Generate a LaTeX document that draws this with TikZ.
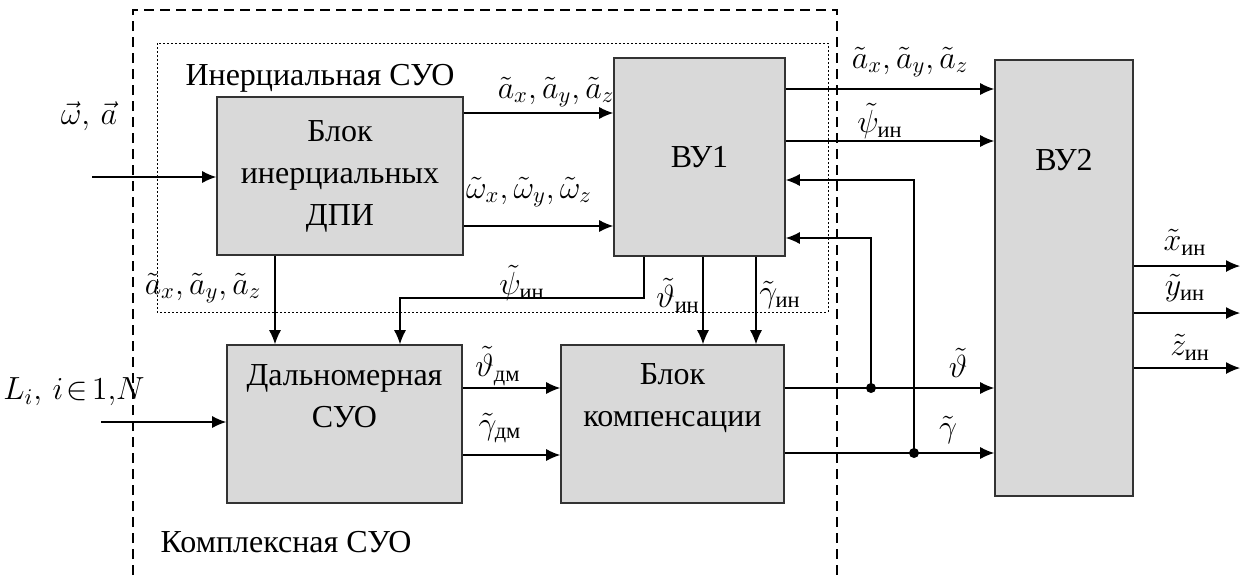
\RequirePackage{fix-cm}
\documentclass[tikz,border=0pt]{standalone}
\usepackage{amsmath}
\usepackage{fontspec}
\setmainfont{Liberation Serif}
\usetikzlibrary{arrows.meta}
\definecolor{boxgray}{HTML}{D9D9D9}
\begin{document}
\begin{tikzpicture}[x=0.5pt,y=-0.5pt,
  font=\fontsize{16}{21}\selectfont,
  box/.style={draw=black!80, line width=0.8pt, fill=boxgray, inner sep=0pt, align=center},
  ar/.style={-{Latex[length=7pt,width=6pt]}, line width=0.6pt},
  ln/.style={line width=0.6pt},
  dotn/.style={circle, fill=black, inner sep=0pt, minimum size=5pt},
  lbl/.style={inner sep=0pt}]
\useasboundingbox (0,0) rectangle (1247,575);

% frames
\draw[line width=1pt, dash pattern=on 5pt off 3pt] (133,575) -- (133,10) -- (837,10) -- (837,575);
\draw[line width=0.5pt, dash pattern=on 1pt off 1pt] (157,43) rectangle (828,312);

% boxes
\node[box, minimum width=123pt, minimum height=79pt] (b1) at (340,176) {Блок\\инерциальных\\ДПИ};
\node[box, minimum width=85.5pt, minimum height=99pt] (vu1) at (699.5,157) {ВУ1};
\node[box, minimum width=69pt, minimum height=218pt] (vu2) at (1064,278) {};
\node[lbl] (vu2t) at (1064,160) {ВУ2};
\node[box, minimum width=117.5pt, minimum height=79pt] (dal) at (344.5,424) {};
\node[lbl, align=center] (dalt) at (344.5,396) {Дальномерная\\СУО};
\node[box, minimum width=111.5pt, minimum height=79pt] (komp) at (672.5,424) {};
\node[lbl, align=center] (kompt) at (672.5,398) {Блок\\компенсации};

% texts
\node[lbl] (tin) at (320,78) {Инерциальная СУО};
\node[lbl] (tkom) at (286,542) {Комплексная СУО};

% inputs
\coordinate (inw) at (92,177);
\coordinate (inl) at (101,422);
\draw[ar] (inw) -- (inw -| b1.west);
\draw[ar] (inl) -- (inl -| dal.west);
\node[lbl] (lw) at (89,116) {$\vec{\omega},\,\vec{a}$};
\node[lbl] (ll) at (74,392) {$L_i,\,i\!\in\!1,\!N$};

% b1 -> vu1
\draw[ar] (b1.east |- 0,113) -- (vu1.west |- 0,113);
\draw[ar] (b1.east |- 0,226) -- (vu1.west |- 0,226);
\node[lbl] (l1) at (556,92) {$\tilde{a}_x,\tilde{a}_y,\tilde{a}_z$};
\node[lbl] (l2) at (529,192) {$\tilde{\omega}_x,\tilde{\omega}_y,\tilde{\omega}_z$};

% b1 -> dal
\draw[ar] (b1.south -| 275,0) -- (dal.north -| 275,0);
\node[lbl] (l3) at (203,288) {$\tilde{a}_x,\tilde{a}_y,\tilde{a}_z$};

% vu1 -> dal
\draw[ar] (vu1.south -| 644,0) |- (400,298) -- (dal.north -| 400,0);
\node[lbl] (l4) at (522,283) {$\tilde{\psi}_{\text{ин}}$};

% vu1 -> komp
\draw[ar] (vu1.south -| 703,0) -- (komp.north -| 703,0);
\draw[ar] (vu1.south -| 756,0) -- (komp.north -| 756,0);
\node[lbl] (l5) at (678,295) {$\tilde{\vartheta}_{\text{ин}}$};
\node[lbl] (l6) at (780,295) {$\tilde{\gamma}_{\text{ин}}$};

% dal -> komp
\draw[ar] (dal.east |- 0,388) -- (komp.west |- 0,388);
\draw[ar] (dal.east |- 0,455) -- (komp.west |- 0,455);
\node[lbl] (l7) at (498,366) {$\tilde{\vartheta}_{\text{дм}}$};
\node[lbl] (l8) at (500,428) {$\tilde{\gamma}_{\text{дм}}$};

% vu1 -> vu2
\draw[ar] (vu1.east |- 0,89) -- (vu2.west |- 0,89);
\draw[ar] (vu1.east |- 0,141) -- (vu2.west |- 0,141);
\node[lbl] (l9) at (910,62) {$\tilde{a}_x,\tilde{a}_y,\tilde{a}_z$};
\node[lbl] (l10) at (880,121) {$\tilde{\psi}_{\text{ин}}$};

% komp -> vu2 with branches
\draw[ar] (komp.east |- 0,388) -- (vu2.west |- 0,388);
\draw[ar] (komp.east |- 0,453) -- (vu2.west |- 0,453);
\node[dotn] (d1) at (871,388) {};
\node[dotn] (d2) at (914,453) {};
\draw[ar] (d1.center) |- (vu1.east |- 0,238);
\draw[ar] (d2.center) |- (vu1.east |- 0,180);
\node[lbl] (l11) at (958,363) {$\tilde{\vartheta}$};
\node[lbl] (l12) at (948,430) {$\tilde{\gamma}$};

% outputs
\coordinate (ox) at (1240,266);
\coordinate (oy) at (1240,313);
\coordinate (oz) at (1240,368);
\draw[ar] (vu2.east |- ox) -- (ox);
\draw[ar] (vu2.east |- oy) -- (oy);
\draw[ar] (vu2.east |- oz) -- (oz);
\node[lbl] (l13) at (1185,242) {$\tilde{x}_{\text{ин}}$};
\node[lbl] (l14) at (1185,288) {$\tilde{y}_{\text{ин}}$};
\node[lbl] (l15) at (1190,347) {$\tilde{z}_{\text{ин}}$};
\end{tikzpicture}
\end{document}
